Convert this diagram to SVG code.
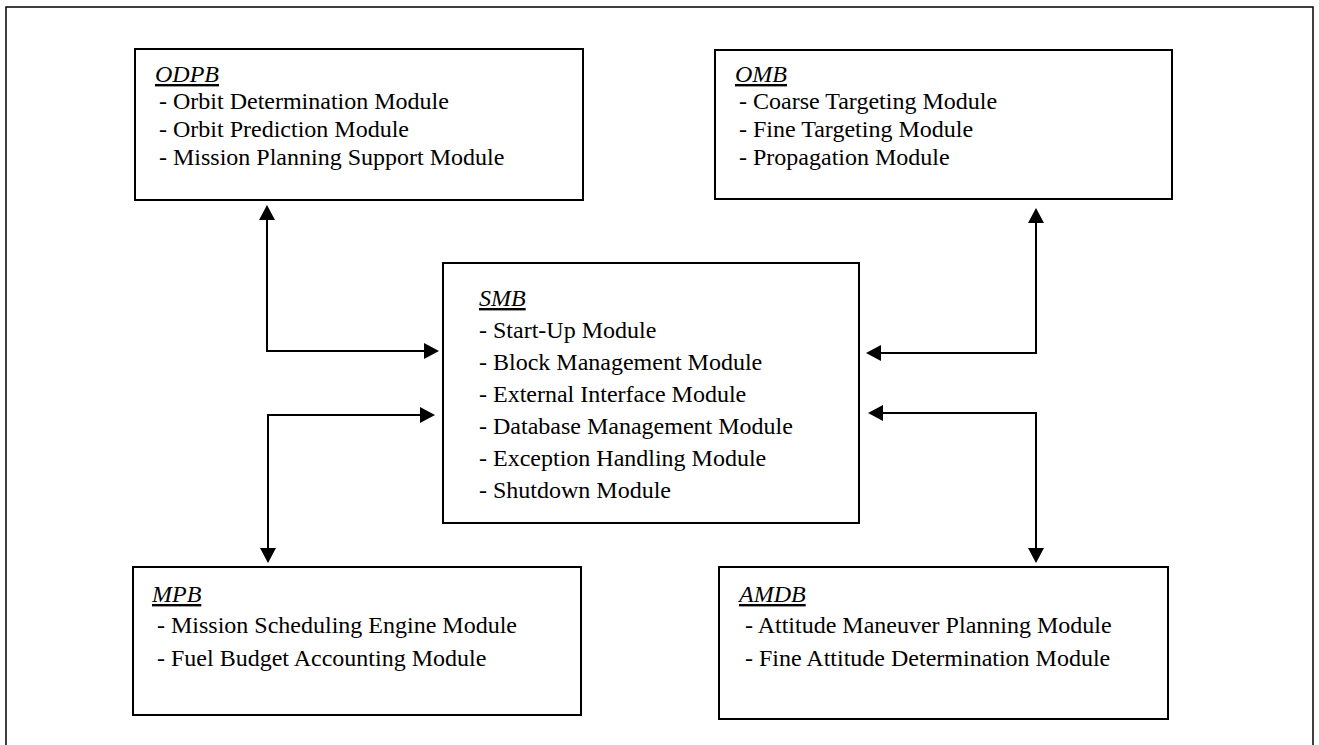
<svg xmlns="http://www.w3.org/2000/svg" width="1319" height="745" viewBox="0 0 1319 745">
  <style>
    .frame { fill: none; stroke: #000; stroke-width: 1.5; }
    .box { fill: #fff; stroke: #000; stroke-width: 2; }
    .link { fill: none; stroke: #000; stroke-width: 2; marker-start: url(#arrow); marker-end: url(#arrow); }
    text { font-family: "Liberation Serif", "Times New Roman", serif; font-size: 24px; fill: #000; }
    .title { font-style: italic; text-decoration: underline; }
  </style>
  <defs>
    <marker id="arrow" viewBox="0 0 16 16" refX="4" refY="8" markerWidth="16" markerHeight="16" markerUnits="userSpaceOnUse" orient="auto-start-reverse">
      <path d="M0,0 L15,8 L0,16 z" fill="#000"/>
    </marker>
  </defs>

  <rect width="1319" height="745" fill="#fff"/>
  <!-- outer frame, open at the bottom edge -->
  <path class="frame" d="M6,760 V7 H1313 V760"/>

  <g id="connectors">
    <path class="link" d="M267,216 V351 H428"/>
    <path class="link" d="M1036,219 V353 H877"/>
    <path class="link" d="M424,415 H268 V552"/>
    <path class="link" d="M879,413 H1036 V552"/>
  </g>

  <g id="odpb">
    <rect class="box" x="135" y="49" width="448" height="151"/>
    <text class="title" x="155" y="82">ODPB</text>
    <text x="159" y="109">- Orbit Determination Module</text>
    <text x="159" y="137">- Orbit Prediction Module</text>
    <text x="159" y="165">- Mission Planning Support Module</text>
  </g>

  <g id="omb">
    <rect class="box" x="715" y="50" width="457" height="149"/>
    <text class="title" x="735" y="82">OMB</text>
    <text x="739" y="109">- Coarse Targeting Module</text>
    <text x="739" y="137">- Fine Targeting Module</text>
    <text x="739" y="165">- Propagation Module</text>
  </g>

  <g id="smb">
    <rect class="box" x="443" y="263" width="416" height="260"/>
    <text class="title" x="479" y="306">SMB</text>
    <text x="479" y="338">- Start-Up Module</text>
    <text x="479" y="370">- Block Management Module</text>
    <text x="479" y="402">- External Interface Module</text>
    <text x="479" y="434">- Database Management Module</text>
    <text x="479" y="466">- Exception Handling Module</text>
    <text x="479" y="498">- Shutdown Module</text>
  </g>

  <g id="mpb">
    <rect class="box" x="133" y="567" width="448" height="148"/>
    <text class="title" x="152" y="602">MPB</text>
    <text x="157" y="633">- Mission Scheduling Engine Module</text>
    <text x="157" y="666">- Fuel Budget Accounting Module</text>
  </g>

  <g id="amdb">
    <rect class="box" x="719" y="567" width="449" height="152"/>
    <text class="title" x="739" y="602">AMDB</text>
    <text x="745" y="633">- Attitude Maneuver Planning Module</text>
    <text x="745" y="666">- Fine Attitude Determination Module</text>
  </g>
</svg>
